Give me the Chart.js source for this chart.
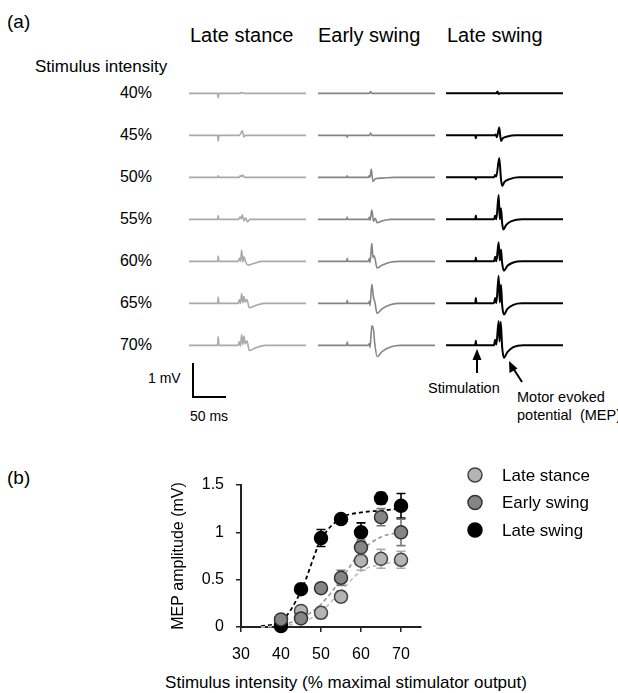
<!DOCTYPE html>
<html>
<head>
<meta charset="utf-8">
<script src="https://cdn.jsdelivr.net/npm/chart.js@4.4.1/dist/chart.umd.min.js"></script>
<style>
  body { margin: 0; background: #fff; }
  #fig { position: relative; width: 618px; height: 693px; overflow: hidden;
         font-family: "Liberation Sans", Arial, sans-serif; color: #000; }
  .t { position: absolute; white-space: nowrap; line-height: 1; transform: translateY(-50%); }
  canvas { position: absolute; }
  svg { position: absolute; left: 0; top: 0; }
</style>
</head>
<body>
<div id="fig">
  <div class="t" style="left:7px;top:21px;font-size:19px">(a)</div>
  <div class="t" style="left:190px;top:35px;font-size:20px">Late stance</div>
  <div class="t" style="left:318px;top:35px;font-size:20px">Early swing</div>
  <div class="t" style="left:447px;top:35px;font-size:20px">Late swing</div>
  <div class="t" style="left:35px;top:66px;font-size:17px">Stimulus intensity</div>
  <div id="rowlabels"></div>

  <div class="t" style="left:148px;top:378px;font-size:14px">1 mV</div>
  <div class="t" style="left:190px;top:416px;font-size:14px">50 ms</div>
  <div class="t" style="left:428px;top:388px;font-size:14.5px">Stimulation</div>
  <div class="t" style="left:517px;top:397px;font-size:14.5px">Motor evoked</div>
  <div class="t" style="left:517px;top:415px;font-size:14.5px">potential&nbsp; (MEP)</div>

  <div class="t" style="left:7px;top:477px;font-size:19px">(b)</div>
  <div class="t" style="left:346px;top:682px;font-size:17px;transform:translate(-50%,-50%)">Stimulus intensity (% maximal stimulator output)</div>

  <svg width="618" height="693">
    <!-- scale bar -->
    <polyline points="193,363 193,397 226,397" fill="none" stroke="#000" stroke-width="2"/>
    <!-- stimulation arrow -->
    <line x1="477" y1="373" x2="477" y2="356" stroke="#000" stroke-width="2"/>
    <polygon points="477,349 472.5,360 481.5,360" fill="#000"/>
    <!-- MEP arrow -->
    <line x1="522" y1="382" x2="513" y2="368" stroke="#000" stroke-width="2"/>
    <polygon points="509,361 509.5,373 517.5,368.5" fill="#000"/>
  </svg>
</div>

<script>
// ---- (a) raw traces: [time ms, mV] ----
const rowLabels = ["40%", "45%", "50%", "55%", "60%", "65%", "70%"];
const rowBaselines = [93, 135, 177, 219, 261, 303, 345];

const lateStanceTraces = [
  [[0,0],[49,0],[50,-0.12],[51,0],[88,0],[90,0.03],[93,0],[200,0]],
  [[0,0],[49,0],[50,-0.15],[51,0],[86,0],[88,0.04],[91,0.12],[94,-0.04],[97,0],[200,0]],
  [[0,0],[49,0],[50,0.04],[51,0],[86,0],[88,0.05],[90,0.02],[92,0.06],[95,0],[200,0]],
  [[0,0],[49,0],[50,0.1],[51,0],[85,0],[87,0.06],[89,0.02],[91,0.12],[94,-0.04],[97,0.04],[100,-0.07],[104,0],[200,0]],
  [[0,0],[49,0],[50,0.14],[51,0],[84,0],[86,0.08],[88,0],[90,0.3],[92,-0.02],[94,0.12],[97,-0.02],[101,-0.1],[110,-0.06],[125,0],[200,0]],
  [[0,0],[49,0],[50,0.17],[51,0],[84,0],[86,0.1],[88,0],[90,0.26],[92,0.02],[94,0.18],[96,0.03],[99,0.1],[103,-0.12],[112,-0.07],[128,0],[200,0]],
  [[0,0],[49,0],[50,0.23],[51,0],[84,0],[86,0.1],[88,-0.02],[90,0.29],[92,0.02],[94,0.25],[96,0.04],[99,0.12],[103,-0.14],[112,-0.08],[130,0],[200,0]]
];
const earlySwingTraces = [
  [[0,0],[88,0],[90,0.05],[92,0],[200,0]],
  [[0,0],[49,0],[50,-0.05],[51,0],[88,0],[90,0.06],[92,0],[200,0]],
  [[0,0],[49,0],[50,0.04],[51,0],[86,0],[88,0.05],[89,0],[91,0.22],[94,-0.11],[98,-0.04],[110,-0.02],[130,0],[200,0]],
  [[0,0],[49,0],[50,0.06],[51,0],[86,0],[88,0.06],[89,-0.02],[92,0.25],[95,-0.05],[98,0.03],[101,-0.09],[110,-0.04],[125,0],[200,0]],
  [[0,0],[49,0],[50,0.08],[51,0],[86,0],[88,0.08],[89,-0.03],[92,0.48],[94,0.1],[96,0.15],[101,-0.18],[110,-0.1],[125,-0.02],[140,0],[200,0]],
  [[0,0],[49,0],[50,0.08],[51,0],[86,0],[88,0.06],[89,-0.06],[92,0.51],[95,0.15],[97,0.05],[101,-0.27],[110,-0.14],[125,-0.03],[140,0],[200,0]],
  [[0,0],[49,0],[50,0.09],[51,0],[86,0],[88,0.05],[89,-0.06],[92,0.52],[95,0.4],[97,0.05],[101,-0.3],[110,-0.16],[125,-0.04],[140,0],[200,0]]
];
const lateSwingTraces = [
  [[0,0],[86,0],[88,0.05],[90,-0.02],[92,0],[200,0]],
  [[0,0],[50,0],[51,-0.08],[52,0],[83,0],[85,0.02],[87,-0.05],[91,0.21],[94,-0.15],[97,-0.08],[105,-0.03],[120,0],[200,0]],
  [[0,0],[50,0],[51,-0.05],[52,0],[82,0],[84,0.06],[86,0.02],[91,0.52],[94,-0.05],[96,-0.23],[100,-0.12],[110,-0.04],[125,0],[200,0]],
  [[0,0],[50,0],[51,0.1],[52,0],[82,0],[84,0.1],[86,0],[90,0.65],[92,0],[94,0.3],[96,-0.1],[98,-0.27],[103,-0.15],[112,-0.05],[130,0],[200,0]],
  [[0,0],[50,0],[51,0.1],[52,0],[82,0],[84,0.12],[86,0],[90,0.51],[92,0.02],[94,0.32],[96,-0.05],[99,-0.25],[105,-0.12],[115,-0.03],[130,0],[200,0]],
  [[0,0],[50,0],[51,0.14],[52,0],[82,0],[84,0.14],[86,0],[90,0.74],[92,0.02],[94,0.5],[96,-0.05],[99,-0.3],[105,-0.15],[115,-0.04],[130,0],[200,0]],
  [[0,0],[50,0],[51,0.12],[52,0],[82,0],[84,0.15],[86,0.02],[90,0.65],[91.5,0.1],[93.5,0.63],[96,-0.05],[99,-0.33],[105,-0.18],[115,-0.05],[132,0],[200,0]]
];

// ---- (b) recruitment curve ----
const intensity = [40, 45, 50, 55, 60, 65, 70];
const lateStanceMean = [0.03, 0.17, 0.15, 0.32, 0.70, 0.72, 0.71];
const lateStanceErr  = [0.01, 0.04, 0.06, 0.06, 0.10, 0.10, 0.09];
const earlySwingMean = [0.08, 0.09, 0.41, 0.52, 0.84, 1.16, 1.00];
const earlySwingErr  = [0.02, 0.03, 0.05, 0.08, 0.08, 0.09, 0.14];
const lateSwingMean  = [0.01, 0.40, 0.94, 1.14, 1.00, 1.36, 1.28];
const lateSwingErr   = [0.01, 0.03, 0.09, 0.04, 0.10, 0.06, 0.13];
// sigmoid fits as drawn (dashed)
const fitX = [35, 40, 45, 50, 55, 60, 65, 70];
const lateStanceFit = [0, 0.01, 0.05, 0.16, 0.38, 0.59, 0.66, 0.69];
const earlySwingFit = [0, 0.02, 0.09, 0.24, 0.50, 0.80, 0.95, 1.00];
const lateSwingFit  = [0.01, 0.06, 0.38, 0.92, 1.15, 1.21, 1.23, 1.25];

const yTicks = [0, 0.5, 1, 1.5];
const xTicks = [30, 40, 50, 60, 70];

const fig = document.getElementById("fig");
const FONT = '"Liberation Sans", Arial, sans-serif';

// row labels
rowLabels.forEach((lab, i) => {
  const d = document.createElement("div");
  d.className = "t";
  d.style.cssText = `left:100px;width:52px;text-align:right;top:${rowBaselines[i]}px;font-size:16px`;
  d.textContent = lab;
  fig.appendChild(d);
});

// one small chart per trace
const columns = [
  { left: 189, traces: lateStanceTraces, color: "#a9a9a9", width: 1.6 },
  { left: 318, traces: earlySwingTraces, color: "#858585", width: 1.6 },
  { left: 446, traces: lateSwingTraces,  color: "#000000", width: 2 }
];
const TRACE_W = 117, TRACE_H = 56, Y_MIN = -0.5, Y_MAX = 1.0;

columns.forEach((col) => {
  col.traces.forEach((tr, i) => {
    const c = document.createElement("canvas");
    c.width = TRACE_W; c.height = TRACE_H;
    c.style.left = col.left + "px";
    c.style.top = (rowBaselines[i] - Math.round(TRACE_H * Y_MAX / (Y_MAX - Y_MIN))) + "px";
    fig.appendChild(c);
    new Chart(c, {
      type: "line",
      data: { datasets: [{
        data: tr.map(([x, y]) => ({ x, y })),
        borderColor: col.color, borderWidth: col.width,
        pointRadius: 0, cubicInterpolationMode: "monotone", fill: false
      }] },
      options: {
        responsive: false, animation: false, events: [],
        layout: { padding: 0 },
        plugins: { legend: { display: false }, tooltip: { enabled: false } },
        scales: {
          x: { type: "linear", min: 0, max: 200, display: false },
          y: { min: Y_MIN, max: Y_MAX, display: false }
        }
      }
    });
  });
});

// ---- chart (b) ----
const cb = document.createElement("canvas");
cb.width = 618; cb.height = 233;
cb.style.left = "0px"; cb.style.top = "460px";
fig.appendChild(cb);

const pts = (xs, ys) => xs.map((x, i) => ({ x, y: ys[i] }));

const errorBars = {
  id: "errorBars",
  beforeDatasetDraw(chart, args) {
    const ds = chart.data.datasets[args.index];
    if (!ds.errors) return;
    const y = chart.scales.y, ctx = chart.ctx;
    ctx.save();
    ctx.strokeStyle = ds.errorColor; ctx.lineWidth = 1.6;
    args.meta.data.forEach((el, i) => {
      const v = ds.data[i].y, e = ds.errors[i];
      const top = y.getPixelForValue(v + e), bot = y.getPixelForValue(v - e);
      ctx.beginPath();
      ctx.moveTo(el.x, top); ctx.lineTo(el.x, bot);
      ctx.moveTo(el.x - 4.5, top); ctx.lineTo(el.x + 4.5, top);
      ctx.moveTo(el.x - 4.5, bot); ctx.lineTo(el.x + 4.5, bot);
      ctx.stroke();
    });
    ctx.restore();
  }
};

const legendItems = [
  { label: "Late stance", fill: "#b4b4b4", border: "#444" },
  { label: "Early swing", fill: "#858585", border: "#333" },
  { label: "Late swing",  fill: "#000000", border: "#000" }
];
const sideLegend = {
  id: "sideLegend",
  afterDraw(chart) {
    const ctx = chart.ctx;
    ctx.save();
    ctx.font = "17px " + FONT;
    ctx.textBaseline = "middle";
    legendItems.forEach((it, i) => {
      const cy = 15 + i * 27.5;
      ctx.beginPath();
      ctx.arc(475, cy, 7, 0, Math.PI * 2);
      ctx.fillStyle = it.fill; ctx.fill();
      ctx.lineWidth = 1.5; ctx.strokeStyle = it.border; ctx.stroke();
      ctx.fillStyle = "#000";
      ctx.fillText(it.label, 502, cy + 1);
    });
    ctx.restore();
  }
};

const fitLine = (ys, color, w) => ({
  type: "line", data: pts(fitX, ys), showLine: true, pointRadius: 0,
  borderColor: color, borderWidth: w, borderDash: [4, 3],
  cubicInterpolationMode: "monotone", order: 5, clip: false
});
const meanPoints = (ys, errs, fill, border, errColor, order) => ({
  type: "scatter", data: pts(intensity, ys), errors: errs, errorColor: errColor,
  pointRadius: 6.5, pointBackgroundColor: fill, pointBorderColor: border,
  pointBorderWidth: 1.5, showLine: false, order, clip: false
});

new Chart(cb, {
  type: "scatter",
  data: { datasets: [
    fitLine(lateStanceFit, "#bdbdbd", 1.6),
    fitLine(earlySwingFit, "#969696", 1.6),
    fitLine(lateSwingFit, "#000000", 1.8),
    meanPoints(lateStanceMean, lateStanceErr, "#b4b4b4", "#444", "#aaaaaa", 3),
    meanPoints(lateSwingMean, lateSwingErr, "#000000", "#000", "#000000", 2),
    meanPoints(earlySwingMean, earlySwingErr, "#858585", "#333", "#777777", 1)
  ] },
  options: {
    responsive: false, animation: false, events: [],
    layout: { padding: { left: 165, right: 197, top: 25, bottom: 0 } },
    plugins: { legend: { display: false }, tooltip: { enabled: false } },
    scales: {
      x: {
        type: "linear", min: 30, max: 75,
        afterBuildTicks: (s) => { s.ticks = xTicks.map((v) => ({ value: v })); },
        afterFit: (s) => { s.height = 66; },
        ticks: { color: "#000", font: { family: FONT, size: 16 }, padding: 13 },
        grid: { drawOnChartArea: false, drawTicks: true, tickLength: 5, color: "#222", lineWidth: 1.5 },
        border: { display: true, color: "#222", width: 2 }
      },
      y: {
        min: 0, max: 1.5,
        afterBuildTicks: (s) => { s.ticks = yTicks.map((v) => ({ value: v })); },
        afterFit: (s) => { s.width = 76; },
        ticks: { color: "#000", font: { family: FONT, size: 16 }, padding: 12, callback: (v) => String(v) },
        grid: { drawOnChartArea: false, drawTicks: true, tickLength: 5, color: "#222", lineWidth: 1.5 },
        border: { display: true, color: "#222", width: 2 },
        title: { display: true, text: "MEP amplitude (mV)", color: "#000",
                 font: { family: FONT, size: 16 }, padding: { top: 4, bottom: 4 } }
      }
    }
  },
  plugins: [errorBars, sideLegend]
});
</script>
</body>
</html>
